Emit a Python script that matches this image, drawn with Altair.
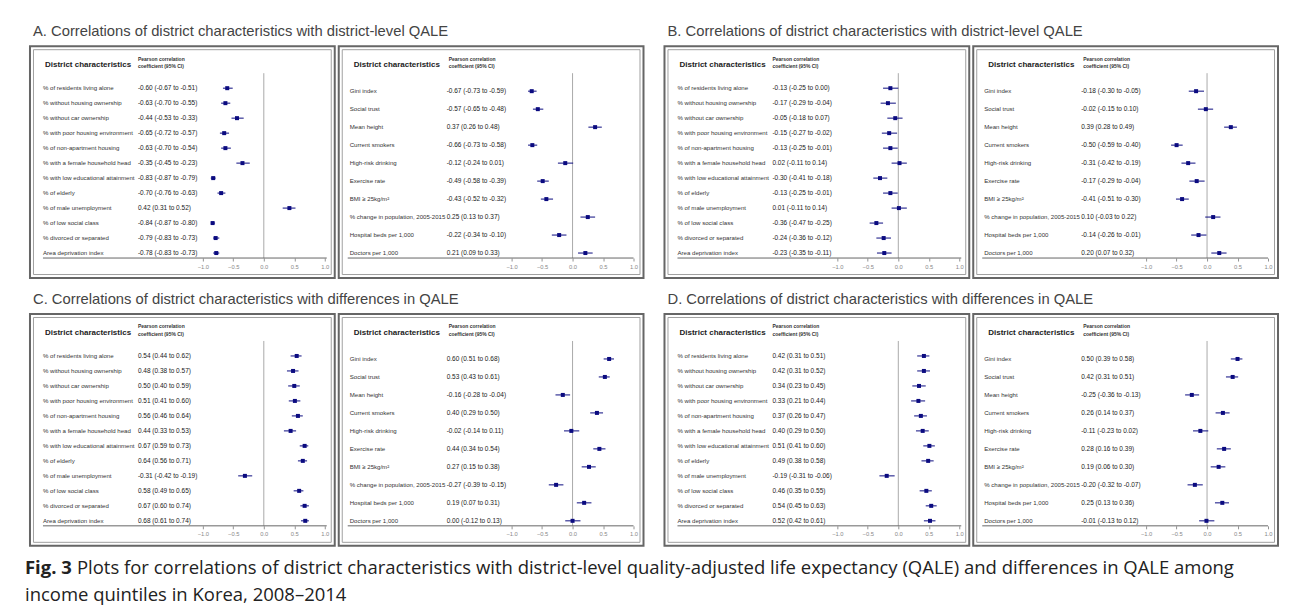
import altair as alt
import pandas as pd

# ---------------- data ----------------
left_labels = [
    "% of residents living alone", "% without housing ownership", "% without car ownership",
    "% with poor housing environment", "% of non-apartment housing", "% with a female household head",
    "% with low educational attainment", "% of elderly", "% of male unemployment",
    "% of low social class", "% divorced or separated", "Area deprivation index",
]
right_labels = [
    "Gini index", "Social trust", "Mean height", "Current smokers", "High-risk drinking",
    "Exercise rate", "BMI \u2265 25kg/m\u00b2", "% change in population, 2005-2015",
    "Hospital beds per 1,000", "Doctors per 1,000",
]

a_left_r = [-0.60, -0.63, -0.44, -0.65, -0.63, -0.35, -0.83, -0.70, 0.42, -0.84, -0.79, -0.78]
a_left_lo = [-0.67, -0.70, -0.53, -0.72, -0.70, -0.45, -0.87, -0.76, 0.31, -0.87, -0.83, -0.83]
a_left_hi = [-0.51, -0.55, -0.33, -0.57, -0.54, -0.23, -0.79, -0.63, 0.52, -0.80, -0.73, -0.73]
a_right_r = [-0.67, -0.57, 0.37, -0.66, -0.12, -0.49, -0.43, 0.25, -0.22, 0.21]
a_right_lo = [-0.73, -0.65, 0.26, -0.73, -0.24, -0.58, -0.52, 0.13, -0.34, 0.09]
a_right_hi = [-0.59, -0.48, 0.48, -0.58, 0.01, -0.39, -0.32, 0.37, -0.10, 0.33]

b_left_r = [-0.13, -0.17, -0.05, -0.15, -0.13, 0.02, -0.30, -0.13, 0.01, -0.36, -0.24, -0.23]
b_left_lo = [-0.25, -0.29, -0.18, -0.27, -0.25, -0.11, -0.41, -0.25, -0.11, -0.47, -0.36, -0.35]
b_left_hi = [0.00, -0.04, 0.07, -0.02, -0.01, 0.14, -0.18, -0.01, 0.14, -0.25, -0.12, -0.11]
b_right_r = [-0.18, -0.02, 0.39, -0.50, -0.31, -0.17, -0.41, 0.10, -0.14, 0.20]
b_right_lo = [-0.30, -0.15, 0.28, -0.59, -0.42, -0.29, -0.51, -0.03, -0.26, 0.07]
b_right_hi = [-0.05, 0.10, 0.49, -0.40, -0.19, -0.04, -0.30, 0.22, -0.01, 0.32]

c_left_r = [0.54, 0.48, 0.50, 0.51, 0.56, 0.44, 0.67, 0.64, -0.31, 0.58, 0.67, 0.68]
c_left_lo = [0.44, 0.38, 0.40, 0.41, 0.46, 0.33, 0.59, 0.56, -0.42, 0.49, 0.60, 0.61]
c_left_hi = [0.62, 0.57, 0.59, 0.60, 0.64, 0.53, 0.73, 0.71, -0.19, 0.65, 0.74, 0.74]
c_right_r = [0.60, 0.53, -0.16, 0.40, -0.02, 0.44, 0.27, -0.27, 0.19, 0.00]
c_right_lo = [0.51, 0.43, -0.28, 0.29, -0.14, 0.34, 0.15, -0.39, 0.07, -0.12]
c_right_hi = [0.68, 0.61, -0.04, 0.50, 0.11, 0.54, 0.38, -0.15, 0.31, 0.13]

d_left_r = [0.42, 0.42, 0.34, 0.33, 0.37, 0.40, 0.51, 0.49, -0.19, 0.46, 0.54, 0.52]
d_left_lo = [0.31, 0.31, 0.23, 0.21, 0.26, 0.29, 0.41, 0.38, -0.31, 0.35, 0.45, 0.42]
d_left_hi = [0.51, 0.52, 0.45, 0.44, 0.47, 0.50, 0.60, 0.58, -0.06, 0.55, 0.63, 0.61]
d_right_r = [0.50, 0.42, -0.25, 0.26, -0.11, 0.28, 0.19, -0.20, 0.25, -0.01]
d_right_lo = [0.39, 0.31, -0.36, 0.14, -0.23, 0.16, 0.06, -0.32, 0.13, -0.13]
d_right_hi = [0.58, 0.51, -0.13, 0.37, 0.02, 0.39, 0.30, -0.07, 0.36, 0.12]

panel_titles = [
    "A. Correlations of district characteristics with district-level QALE",
    "B. Correlations of district characteristics with district-level QALE",
    "C. Correlations of district characteristics with differences in QALE",
    "D. Correlations of district characteristics with differences in QALE",
]
header_text = "District characteristics"
pearson_1 = "Pearson correlation"
pearson_2 = "coefficient (95% CI)"
tick_values = [-1.0, -0.5, 0.0, 0.5, 1.0]
caption_bold = "Fig. 3"
caption_1 = ("Plots for correlations of district characteristics with district-level "
             "quality-adjusted life expectancy (QALE) and differences in QALE among")
caption_2 = "income quintiles in Korea, 2008\u20132014"

# ---------------- style ----------------
FONT = "Liberation Sans"
NAVY = "#0b0b80"
W, H = 305, 232
PX_PER_UNIT = 61.0
ZERO_X = 234.0
AXIS_Y = 212


def make_box(labels, r, lo, hi, kind):
    n = len(labels)
    if kind == "left":
        row0, step, lab_x, head_x, pear_x, ax0, ax1 = 42, 15, 13, 15, 108, 13, 297
    else:
        row0, step, lab_x, head_x, pear_x, ax0, ax1 = 45, 18, 11, 15, 110, 9, 295
    df = pd.DataFrame({"label": labels, "r": r, "lo": lo, "hi": hi, "row": list(range(n))})
    df["ci"] = [f"{a:.2f} ({b:.2f} to {c:.2f})" for a, b, c in zip(r, lo, hi)]
    one = pd.DataFrame({"k": [0]})

    xs = alt.Scale(domain=[-ZERO_X / PX_PER_UNIT, (W - ZERO_X) / PX_PER_UNIT], nice=False, zero=False)
    ys = alt.Scale(domain=[-row0 / step, (H - row0) / step], nice=False, zero=False, reverse=True)
    ax = alt.Axis(values=tick_values, format=".1f", domain=False, grid=False, ticks=True,
                  tickSize=3, tickColor="#777", tickWidth=0.8, labelFontSize=5.8,
                  labelColor="#888", labelPadding=2, offset=-(H - AXIS_Y), title=None,
                  labelFont=FONT)
    yenc = alt.Y("row:Q", scale=ys, axis=None)

    frame = alt.Chart(one).mark_rect(fillOpacity=0, stroke="#a0a0a0", strokeWidth=1).encode(
        x=alt.value(3.5), x2=alt.value(W - 3.5), y=alt.value(3.5), y2=alt.value(H - 3.5))
    zero = alt.Chart(one).mark_rule(color="#aaaaaa", strokeWidth=1).encode(
        x=alt.XDatum(0, scale=xs, axis=ax), y=alt.value(27), y2=alt.value(AXIS_Y))
    axline = alt.Chart(one).mark_rule(color="#666666", strokeWidth=1).encode(
        x=alt.value(ax0), x2=alt.value(ax1), y=alt.value(AXIS_Y))
    head = alt.Chart(one).mark_text(align="left", baseline="middle", font=FONT, fontSize=8,
                                    fontWeight="bold", color="#222", text=header_text).encode(
        x=alt.value(head_x), y=alt.value(19))
    p1 = alt.Chart(one).mark_text(align="left", baseline="middle", font=FONT, fontSize=5,
                                  fontWeight="bold", color="#333", text=pearson_1).encode(
        x=alt.value(pear_x), y=alt.value(12.5))
    p2 = alt.Chart(one).mark_text(align="left", baseline="middle", font=FONT, fontSize=5,
                                  fontWeight="bold", color="#333", text=pearson_2).encode(
        x=alt.value(pear_x), y=alt.value(20))
    lab = alt.Chart(df).mark_text(align="left", baseline="middle", font=FONT, fontSize=6.1,
                                  color="#333").encode(
        x=alt.value(lab_x), y=yenc, text="label:N")
    ci = alt.Chart(df).mark_text(align="left", baseline="middle", font=FONT, fontSize=6.5,
                                 color="#1a1a1a").encode(
        x=alt.value(108), y=yenc, text="ci:N")
    bars = alt.Chart(df).mark_rule(color=NAVY, strokeWidth=1).encode(
        x=alt.X("lo:Q", scale=xs, axis=ax), x2="hi:Q", y=yenc)
    pts = alt.Chart(df).mark_square(color=NAVY, size=16, opacity=1).encode(
        x=alt.X("r:Q", scale=xs, axis=ax), y=yenc)
    return alt.layer(frame, zero, axline, head, p1, p2, lab, ci, bars, pts).properties(
        width=W, height=H)


def make_panel(title, left, right):
    return alt.hconcat(
        make_box(left_labels, *left, "left"),
        make_box(right_labels, *right, "right"),
        spacing=2,
    ).properties(title=alt.TitleParams(title, anchor="start", dx=4, offset=6, fontSize=14.8,
                                       font=FONT, fontWeight="normal", color="#444"))


pA = make_panel(panel_titles[0], (a_left_r, a_left_lo, a_left_hi), (a_right_r, a_right_lo, a_right_hi))
pB = make_panel(panel_titles[1], (b_left_r, b_left_lo, b_left_hi), (b_right_r, b_right_lo, b_right_hi))
pC = make_panel(panel_titles[2], (c_left_r, c_left_lo, c_left_hi), (c_right_r, c_right_lo, c_right_hi))
pD = make_panel(panel_titles[3], (d_left_r, d_left_lo, d_left_hi), (d_right_r, d_right_lo, d_right_hi))

grid = alt.vconcat(
    alt.hconcat(pA, pB, spacing=19),
    alt.hconcat(pC, pD, spacing=19),
    spacing=13,
)

one = pd.DataFrame({"k": [0]})
cap_style = dict(align="left", baseline="alphabetic", font="Open Sans", fontSize=18.5, color="#222")
cap = alt.layer(
    alt.Chart(one).mark_text(text=caption_bold, fontWeight="bold", **cap_style).encode(
        x=alt.value(-5), y=alt.value(17)),
    alt.Chart(one).mark_text(text=caption_1, **cap_style).encode(x=alt.value(47), y=alt.value(17)),
    alt.Chart(one).mark_text(text=caption_2, **cap_style).encode(x=alt.value(-5), y=alt.value(44)),
).properties(width=1243, height=50, view=alt.ViewBackground(strokeOpacity=0))

chart = alt.vconcat(grid, cap, spacing=10).properties(
    padding={"left": 17, "top": 16, "right": 5, "bottom": 2},
    background="white",
).configure_view(stroke="#666666", strokeWidth=2)

chart.save("out.html", embed_options={"renderer": "svg", "actions": False})
